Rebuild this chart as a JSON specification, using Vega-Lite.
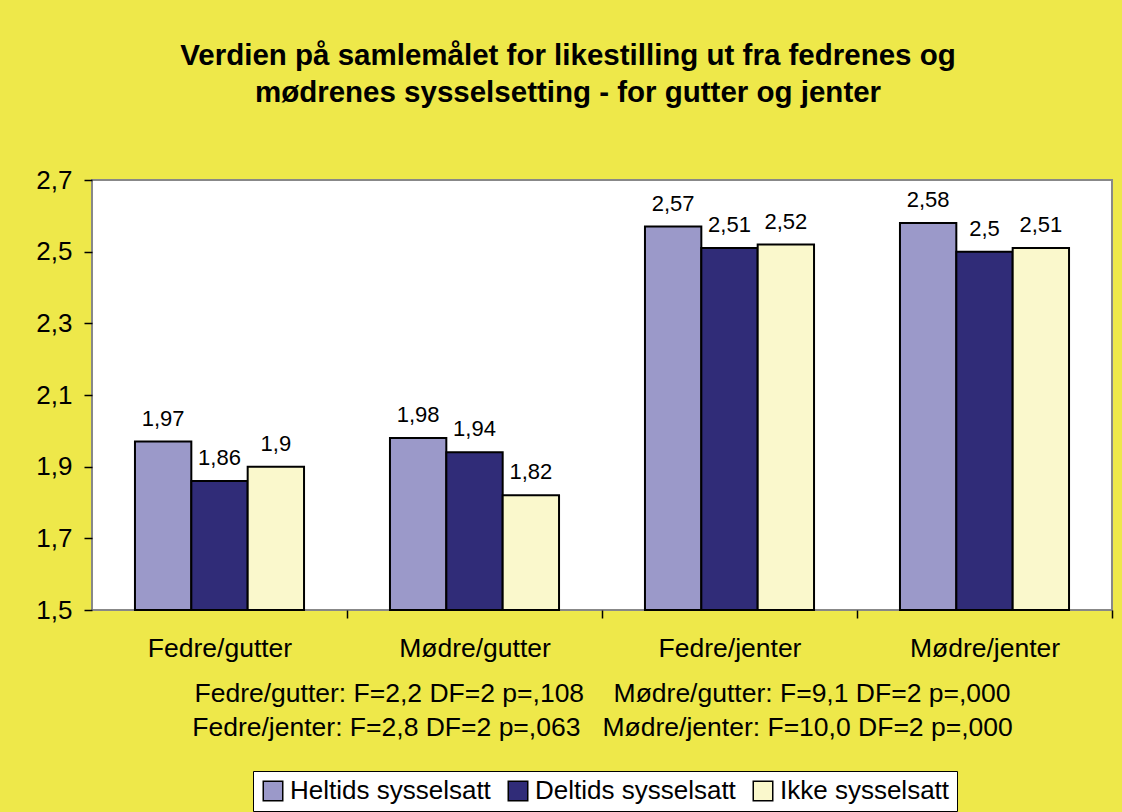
{
  "$schema": "https://vega.github.io/schema/vega-lite/v6.json",
  "autosize": {"type": "none"},
  "width": 1020,
  "height": 430,
  "padding": {"left": 92, "top": 180, "right": 10, "bottom": 202},
  "background": "#EEE84A",
  "title": {
    "text": ["Verdien på samlemålet for likestilling ut fra fedrenes og", "mødrenes sysselsetting - for gutter og jenter"],
    "anchor": "middle",
    "frame": "group",
    "dx": -34,
    "offset": 59,
    "font": "Liberation Sans",
    "fontSize": 29.5,
    "fontWeight": "bold",
    "color": "black",
    "lineHeight": 37
  },
  "data": {
    "values": [
      {"gruppe": "Fedre/gutter", "status": "Heltids sysselsatt", "verdi": 1.97},
      {"gruppe": "Fedre/gutter", "status": "Deltids sysselsatt", "verdi": 1.86},
      {"gruppe": "Fedre/gutter", "status": "Ikke sysselsatt", "verdi": 1.9},
      {"gruppe": "Mødre/gutter", "status": "Heltids sysselsatt", "verdi": 1.98},
      {"gruppe": "Mødre/gutter", "status": "Deltids sysselsatt", "verdi": 1.94},
      {"gruppe": "Mødre/gutter", "status": "Ikke sysselsatt", "verdi": 1.82},
      {"gruppe": "Fedre/jenter", "status": "Heltids sysselsatt", "verdi": 2.57},
      {"gruppe": "Fedre/jenter", "status": "Deltids sysselsatt", "verdi": 2.51},
      {"gruppe": "Fedre/jenter", "status": "Ikke sysselsatt", "verdi": 2.52},
      {"gruppe": "Mødre/jenter", "status": "Heltids sysselsatt", "verdi": 2.58},
      {"gruppe": "Mødre/jenter", "status": "Deltids sysselsatt", "verdi": 2.5},
      {"gruppe": "Mødre/jenter", "status": "Ikke sysselsatt", "verdi": 2.51}
    ]
  },
  "encoding": {
    "x": {
      "field": "gruppe",
      "type": "nominal",
      "sort": ["Fedre/gutter", "Mødre/gutter", "Fedre/jenter", "Mødre/jenter"],
      "scale": {"paddingInner": 0.337, "paddingOuter": 0.1685},
      "axis": {
        "title": ["Fedre/gutter: F=2,2 DF=2 p=,108\u00a0\u00a0\u00a0\u00a0Mødre/gutter: F=9,1 DF=2 p=,000", "Fedre/jenter: F=2,8 DF=2 p=,063\u00a0\u00a0\u00a0Mødre/jenter: F=10,0 DF=2 p=,000"],
        "titleFont": "Liberation Sans",
        "titleFontSize": 26.5,
        "titleFontWeight": "normal",
        "titleColor": "black",
        "titleLineHeight": 34,
        "titlePadding": 19,
        "labelAngle": 0,
        "labelFont": "Liberation Sans",
        "labelFontSize": 26.5,
        "labelColor": "black",
        "labelPadding": 17,
        "labelOffset": -127.5,
        "ticks": true,
        "tickOffset": 127.5,
        "tickColor": "black",
        "tickOpacity": 1,
        "tickSize": 8,
        "tickWidth": 1.5,
        "domain": false,
        "grid": false
      }
    },
    "y": {
      "field": "verdi",
      "type": "quantitative",
      "scale": {"domain": [1.5, 2.7], "zero": false, "nice": false},
      "axis": {
        "title": null,
        "values": [1.5, 1.7, 1.9, 2.1, 2.3, 2.5, 2.7],
        "format": ".1f",
        "labelFont": "Liberation Sans",
        "labelFontSize": 26,
        "labelColor": "black",
        "labelPadding": 12,
        "tickColor": "black",
        "tickSize": 8,
        "tickWidth": 1.5,
        "domain": false,
        "grid": false
      }
    },
    "xOffset": {
      "field": "status",
      "type": "nominal",
      "sort": ["Heltids sysselsatt", "Deltids sysselsatt", "Ikke sysselsatt"],
      "scale": {"paddingInner": 0, "paddingOuter": 0}
    }
  },
  "layer": [
    {
      "mark": {"type": "bar", "stroke": "black", "strokeWidth": 2},
      "encoding": {
        "y2": {"datum": 1.5},
        "color": {
          "field": "status",
          "type": "nominal",
          "sort": ["Heltids sysselsatt", "Deltids sysselsatt", "Ikke sysselsatt"],
          "scale": {
            "domain": ["Heltids sysselsatt", "Deltids sysselsatt", "Ikke sysselsatt"],
            "range": ["#9B99C9", "#302C78", "#FAF8CC"]
          },
          "legend": {
            "title": null,
            "orient": "none",
            "direction": "horizontal",
            "legendX": 161,
            "legendY": 591,
            "fillColor": "white",
            "strokeColor": "black",
            "padding": 7,
            "symbolType": "square",
            "symbolSize": 380,
            "symbolStrokeColor": "black",
            "symbolStrokeWidth": 1.5,
            "symbolOpacity": 1,
            "labelFont": "Liberation Sans",
            "labelFontSize": 26,
            "labelColor": "black",
            "labelOffset": 4,
            "labelLimit": 0,
            "columnPadding": 14
          }
        }
      }
    },
    {
      "mark": {"type": "text", "baseline": "alphabetic", "dy": -16, "font": "Liberation Sans", "fontSize": 22, "color": "black"},
      "encoding": {
        "text": {"field": "verdi", "type": "quantitative", "format": "~g"}
      }
    }
  ],
  "config": {
    "locale": {"number": {"decimal": ",", "thousands": " ", "grouping": [3], "currency": ["", " kr"]}},
    "view": {"stroke": "#888888", "strokeWidth": 2, "fill": "white"}
  }
}
